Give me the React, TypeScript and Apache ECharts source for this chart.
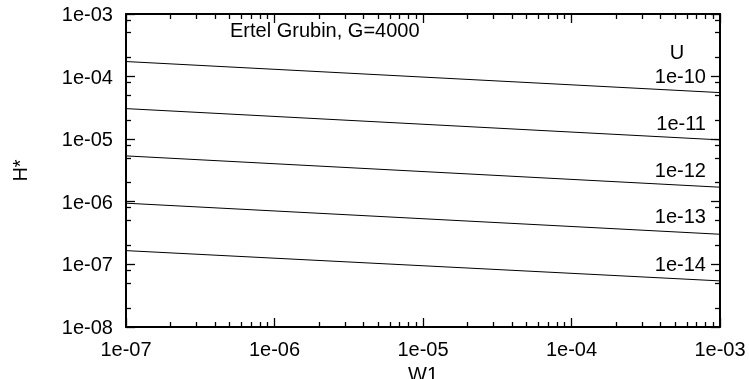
import React, { useEffect, useRef } from "react";
import * as echarts from "echarts";

// Axis decades and tick labels
const xMajor = [1e-7, 1e-6, 1e-5, 1e-4, 1e-3];
const xTickLabels = ["1e-07", "1e-06", "1e-05", "1e-04", "1e-03"];
const yMajor = [1e-8, 1e-7, 1e-6, 1e-5, 1e-4, 1e-3];
const yTickLabels = ["1e-08", "1e-07", "1e-06", "1e-05", "1e-04", "1e-03"];
const xMinorSteps = [2, 3, 4, 5, 6, 7, 8, 9];
const yMinorSteps = [2, 5, 8];

// Curves H*(W1) for each U value, at W1 = 1e-7 and 1e-3
const w1Ends = [1e-7, 1e-3];
const uLabels = ["1e-10", "1e-11", "1e-12", "1e-13", "1e-14"];
const hU10 = [1.74e-4, 5.55e-5];
const hU11 = [3.08e-5, 9.75e-6];
const hU12 = [5.41e-6, 1.71e-6];
const hU13 = [9.5e-7, 3.03e-7];
const hU14 = [1.66e-7, 5.45e-8];
const hSeries = [hU10, hU11, hU12, hU13, hU14];

const titleText = "Ertel Grubin, G=4000";
const keyTitle = "U";

const FONT = "'Liberation Sans', Arial, Helvetica, sans-serif";
const MAJOR_LEN = 9;
const MINOR_LEN = 5;

function minorValues(major: number[], steps: number[]) {
  const out: number[] = [];
  for (let i = 0; i < major.length - 1; i++) {
    for (const s of steps) out.push(Number((s * major[i]).toPrecision(6)));
  }
  return out;
}

function labelFor(major: number[], labels: string[]) {
  return (v: number) => {
    const i = major.findIndex((m) => Math.abs(Math.log10(m) - Math.log10(v)) < 1e-6);
    return i >= 0 ? labels[i] : "";
  };
}

// snap a coordinate to a pixel centre so 1px strokes stay crisp
const crisp = (v: number) => Math.round(v - 0.5) + 0.5;

export default function App() {
  const ref = useRef<HTMLDivElement>(null);

  useEffect(() => {
    if (!ref.current) return;
    const chart = echarts.init(ref.current, null, { renderer: "svg" });

    const xMin = xMajor[0];
    const xMax = xMajor[xMajor.length - 1];
    const yMin = yMajor[0];
    const yMax = yMajor[yMajor.length - 1];

    const frame = () => ({ show: true, lineStyle: { color: "#000", width: 2 } });
    const text = () => ({ fontFamily: FONT, fontSize: 20, color: "#000" });

    chart.setOption({
      animation: false,
      grid: { left: 126, top: 14, width: 594, height: 313, outerBoundsMode: "none" },
      xAxis: [
        {
          type: "log",
          min: xMin,
          max: xMax,
          position: "bottom",
          splitLine: { show: false },
          axisLine: frame(),
          axisTick: { show: false },
          axisLabel: { ...text(), margin: 12, formatter: labelFor(xMajor, xTickLabels) },
          name: "W1",
          nameLocation: "middle",
          nameGap: 29,
          nameTextStyle: text(),
        },
        {
          type: "log",
          min: xMin,
          max: xMax,
          position: "top",
          splitLine: { show: false },
          axisLine: frame(),
          axisTick: { show: false },
          axisLabel: { show: false },
        },
      ],
      yAxis: [
        {
          type: "log",
          min: yMin,
          max: yMax,
          position: "left",
          splitLine: { show: false },
          axisLine: frame(),
          axisTick: { show: false },
          axisLabel: { ...text(), margin: 13, formatter: labelFor(yMajor, yTickLabels) },
          name: "H*",
          nameLocation: "middle",
          nameGap: 96,
          nameRotate: 90,
          nameTextStyle: text(),
        },
        {
          type: "log",
          min: yMin,
          max: yMax,
          position: "right",
          splitLine: { show: false },
          axisLine: frame(),
          axisTick: { show: false },
          axisLabel: { show: false },
        },
      ],
      series: hSeries.map((h, i) => ({
        type: "line",
        name: uLabels[i],
        data: w1Ends.map((w, j) => [w, h[j]]),
        symbol: "none",
        lineStyle: { color: "#000", width: 1 },
      })),
    } as any);

    // inward tick marks on all four sides, positioned through the axes' scales
    const toPx = (x: number, y: number) =>
      chart.convertToPixel({ xAxisIndex: 0, yAxisIndex: 0 }, [x, y]) as number[];
    const tickLine = (x1: number, y1: number, x2: number, y2: number) => ({
      type: "line",
      z: 100,
      silent: true,
      shape: { x1, y1, x2, y2 },
      style: { stroke: "#000", lineWidth: 1.3 },
    });
    const ticks: any[] = [];
    const addX = (vals: number[], len: number) => {
      for (const v of vals) {
        const b = toPx(v, yMin);
        const t = toPx(v, yMax);
        const x = crisp(b[0]);
        ticks.push(tickLine(x, b[1], x, b[1] - len));
        ticks.push(tickLine(x, t[1], x, t[1] + len));
      }
    };
    const addY = (vals: number[], len: number) => {
      for (const v of vals) {
        const l = toPx(xMin, v);
        const r = toPx(xMax, v);
        const y = crisp(l[1]);
        ticks.push(tickLine(l[0], y, l[0] + len, y));
        ticks.push(tickLine(r[0], y, r[0] - len, y));
      }
    };
    addX(xMajor, MAJOR_LEN);
    addX(minorValues(xMajor, xMinorSteps), MINOR_LEN);
    addY(yMajor, MAJOR_LEN);
    addY(minorValues(yMajor, yMinorSteps), MINOR_LEN);

    chart.setOption({
      graphic: [
        {
          type: "text",
          left: 230,
          top: 20,
          style: { text: titleText, font: `20px ${FONT}`, fill: "#000" },
        },
        {
          type: "text",
          x: 677,
          y: 52,
          style: {
            text: keyTitle,
            font: `20px ${FONT}`,
            fill: "#000",
            align: "center",
            verticalAlign: "middle",
          },
        },
        ...uLabels.map((t, i) => ({
          type: "text",
          x: 706,
          y: [76, 122.7, 169.5, 216.3, 264][i],
          style: {
            text: t,
            font: `20px ${FONT}`,
            fill: "#000",
            align: "right",
            verticalAlign: "middle",
          },
        })),
        ...ticks,
      ],
    } as any);

    return () => chart.dispose();
  }, []);

  return (
    <div
      ref={ref}
      style={{ position: "fixed", left: 0, top: 0, width: 749, height: 379 }}
    />
  );
}
